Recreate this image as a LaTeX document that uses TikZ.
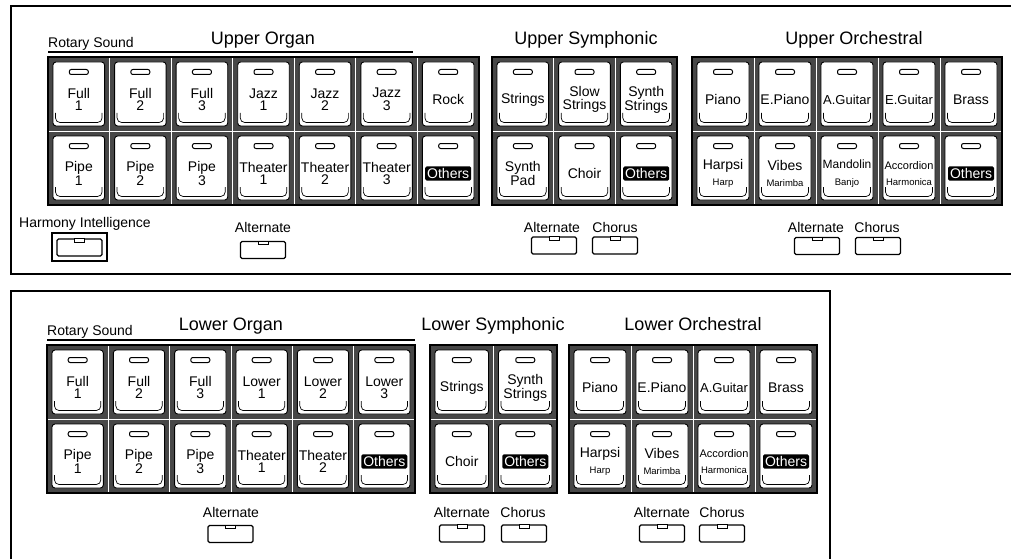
\documentclass[tikz,border=0pt]{standalone}
\usepackage{fontspec}
\setmainfont{Liberation Sans}
\newcommand\subf{\fontsize{9.5}{9.5}\selectfont}
\newcommand\guitf{\fontsize{13}{12.5}\selectfont}
\newcommand\vkey[6][]{%
  \fill[cellbg] (#3,#4) rectangle ++(#5,74);
  \draw[cellsep] (#3,#4) rectangle ++(#5,74);
  \pgfmathsetmacro\kxa{#3+5}\pgfmathsetmacro\kxb{#3+#5-5}%
  \pgfmathsetmacro\kya{#4+5}\pgfmathsetmacro\kyb{#4+69}%
  \pgfmathsetmacro\kcx{#3+#5/2}\pgfmathsetmacro\kw{#5-10}%
  \node[keyface, minimum width=\kw pt, minimum height=64pt] (#2) at (\kcx,#4+37) {};
  \draw[bevel] (\kxa+2.5,\kyb-13) -- (\kxa+2.5,\kyb-8) to[out=-90,in=180] (\kxa+7,\kyb-3.5) -- (\kxb-7,\kyb-3.5) to[out=0,in=-90] (\kxb-2.5,\kyb-8) -- (\kxb-2.5,\kyb-13);
  \node[led] (#2-led) at (\kcx,\kya+10) {};
  \node[keylabel,#1] (#2-lab) at (\kcx,\kya+37.5) {#6};
}
\newcommand\sbutton[3]{%
  \node[sbtn] (#1) at (#2,#3) {};
  \draw[notch] ([xshift=-5pt]#1.north) rectangle ++(10,3.5);
}
\begin{document}
\begin{tikzpicture}[x=1pt,y=-1pt,
  cellbg/.style={fill=black!72},
  cellsep/.style={draw=white,line width=0.8pt},
  blockedge/.style={draw=black,line width=1.6pt},
  keyface/.style={draw=black,fill=white,line width=0.9pt,rounded corners=3pt,inner sep=0pt},
  bevel/.style={draw=black,line width=0.7pt},
  led/.style={draw=black,fill=white,line width=1pt,rounded corners=2pt,minimum width=19pt,minimum height=5pt,inner sep=0pt},
  keylabel/.style={font=\fontsize{14}{12.5}\selectfont,align=center,inner sep=0pt},
  othersbox/.style={fill=black,text=white,rounded corners=1.5pt,inner xsep=2pt,inner ysep=2pt},
  sbtn/.style={draw=black,line width=1.1pt,rounded corners=1.5pt,minimum width=45pt,minimum height=17pt,inner sep=0pt},
  notch/.style={draw=black,fill=white,line width=0.8pt},
  grouptitle/.style={font=\fontsize{18}{18}\selectfont,inner sep=0pt},
  smalltxt/.style={font=\fontsize{14}{14}\selectfont,inner sep=0pt},
  rotary/.style={font=\fontsize{14}{14}\selectfont,inner sep=0pt},
  panel/.style={line width=2.2pt},
  rule/.style={line width=1.1pt}]
\useasboundingbox (0,0) rectangle (1011,559);

% panels
\draw[panel] (1011,6) -- (11,6) -- (11,274) -- (1011,274);
\draw[panel] (11,559) -- (11,291) -- (830,291) -- (830,559);

% ---------------- Upper panel ----------------
\node[rotary,anchor=base west] (rsU) at (48,48) {Rotary Sound};
\coordinate (rsUa) at (48,52); \coordinate (rsUb) at (413,52);
\draw[rule] (rsUa) -- (rsUb);
\node[grouptitle,anchor=base] (tUO) at (263,45) {Upper Organ};
\node[grouptitle,anchor=base] (tUS) at (586,45) {Upper Symphonic};
\node[grouptitle,anchor=base] (tUR) at (854,45) {Upper Orchestral};

% Upper Organ
\foreach \lab [count=\i from 0] in {{Full\\1},{Full\\2},{Full\\3},{Jazz\\1},{Jazz\\2},{Jazz\\3},Rock}
  {\vkey{uoA\i}{48+\i*61.571}{57}{61.571}{\lab}}
\foreach \lab [count=\i from 0] in {{Pipe\\1},{Pipe\\2},{Pipe\\3},{Theater\\1},{Theater\\2},{Theater\\3}}
  {\vkey{uoB\i}{48+\i*61.571}{131}{61.571}{\lab}}
\vkey[othersbox]{uoB6}{48+6*61.571}{131}{61.571}{Others}
\draw[blockedge] (48,57) rectangle (479,205);

% Upper Symphonic
\foreach \lab [count=\i from 0] in {Strings,{Slow\\Strings},{Synth\\Strings}}
  {\vkey{usA\i}{492+\i*61.667}{57}{61.667}{\lab}}
\vkey{usB0}{492}{131}{61.667}{Synth\\Pad}
\vkey{usB1}{492+61.667}{131}{61.667}{Choir}
\vkey[othersbox]{usB2}{492+2*61.667}{131}{61.667}{Others}
\draw[blockedge] (492,57) rectangle (677,205);

% Upper Orchestral
\foreach \lab [count=\i from 0] in {Piano,E.Piano,{\guitf A.Guitar},{\guitf E.Guitar},Brass}
  {\vkey{urA\i}{692+\i*62}{57}{62}{\lab}}
\vkey{urB0}{692}{131}{62}{Harpsi\\[4pt]{\subf Harp}}
\vkey{urB1}{692+62}{131}{62}{Vibes\\[4pt]{\subf Marimba}}
\vkey{urB2}{692+2*62}{131}{62}{{\fontsize{12}{12}\selectfont Mandolin}\\[4pt]{\subf Banjo}}
\vkey{urB3}{692+3*62}{131}{62}{{\fontsize{11}{11}\selectfont Accordion}\\[4pt]{\subf Harmonica}}
\vkey[othersbox]{urB4}{692+4*62}{131}{62}{Others}
\draw[blockedge] (692,57) rectangle (1002,205);

% Upper small buttons
\node[smalltxt,anchor=base west] (hiT) at (19,227) {Harmony Intelligence};
\node[draw=black,line width=1.4pt,minimum width=55pt,minimum height=28pt,inner sep=0pt] (hi) at (79.5,247) {};
\sbutton{hiin}{79.5}{247.5}
\node[smalltxt,anchor=base] (uoAltT) at (263,232) {Alternate};
\sbutton{uoAlt}{263}{250}
\node[smalltxt,anchor=base] (usAltT) at (552,232) {Alternate};
\node[smalltxt,anchor=base] (usChoT) at (615,232) {Chorus};
\sbutton{usAlt}{554}{245.5}
\sbutton{usCho}{615}{245.5}
\node[smalltxt,anchor=base] (urAltT) at (816,232) {Alternate};
\node[smalltxt,anchor=base] (urChoT) at (877,232) {Chorus};
\sbutton{urAlt}{817}{246}
\sbutton{urCho}{878}{246}

% ---------------- Lower panel ----------------
\node[rotary,anchor=base west] (rsL) at (47,335) {Rotary Sound};
\coordinate (rsLa) at (47,340); \coordinate (rsLb) at (415,340);
\draw[rule] (rsLa) -- (rsLb);
\node[grouptitle,anchor=base] (tLO) at (231,330) {Lower Organ};
\node[grouptitle,anchor=base] (tLS) at (493,330) {Lower Symphonic};
\node[grouptitle,anchor=base] (tLR) at (693,330) {Lower Orchestral};

% Lower Organ
\foreach \lab [count=\i from 0] in {{Full\\1},{Full\\2},{Full\\3},{Lower\\1},{Lower\\2},{Lower\\3}}
  {\vkey{loA\i}{47+\i*61.333}{345}{61.333}{\lab}}
\foreach \lab [count=\i from 0] in {{Pipe\\1},{Pipe\\2},{Pipe\\3},{Theater\\1},{Theater\\2}}
  {\vkey{loB\i}{47+\i*61.333}{419}{61.333}{\lab}}
\vkey[othersbox]{loB5}{47+5*61.333}{419}{61.333}{Others}
\draw[blockedge] (47,345) rectangle (415,493);

% Lower Symphonic
\vkey{lsA0}{430}{345}{63.5}{Strings}
\vkey{lsA1}{430+63.5}{345}{63.5}{Synth\\Strings}
\vkey{lsB0}{430}{419}{63.5}{Choir}
\vkey[othersbox]{lsB1}{430+63.5}{419}{63.5}{Others}
\draw[blockedge] (430,345) rectangle (557,493);

% Lower Orchestral
\foreach \lab [count=\i from 0] in {Piano,E.Piano,{\guitf A.Guitar},Brass}
  {\vkey{lrA\i}{569+\i*62}{345}{62}{\lab}}
\vkey{lrB0}{569}{419}{62}{Harpsi\\[4pt]{\subf Harp}}
\vkey{lrB1}{569+62}{419}{62}{Vibes\\[4pt]{\subf Marimba}}
\vkey{lrB2}{569+2*62}{419}{62}{{\fontsize{11}{11}\selectfont Accordion}\\[4pt]{\subf Harmonica}}
\vkey[othersbox]{lrB3}{569+3*62}{419}{62}{Others}
\draw[blockedge] (569,345) rectangle (817,493);

% Lower small buttons
\node[smalltxt,anchor=base] (loAltT) at (231,517) {Alternate};
\sbutton{loAlt}{230.5}{534}
\node[smalltxt,anchor=base] (lsAltT) at (462,517) {Alternate};
\node[smalltxt,anchor=base] (lsChoT) at (523,517) {Chorus};
\sbutton{lsAlt}{462}{533.5}
\sbutton{lsCho}{524}{533.5}
\node[smalltxt,anchor=base] (lrAltT) at (662,517) {Alternate};
\node[smalltxt,anchor=base] (lrChoT) at (722,517) {Chorus};
\sbutton{lrAlt}{662}{533.5}
\sbutton{lrCho}{722}{533.5}
\end{tikzpicture}
\end{document}
